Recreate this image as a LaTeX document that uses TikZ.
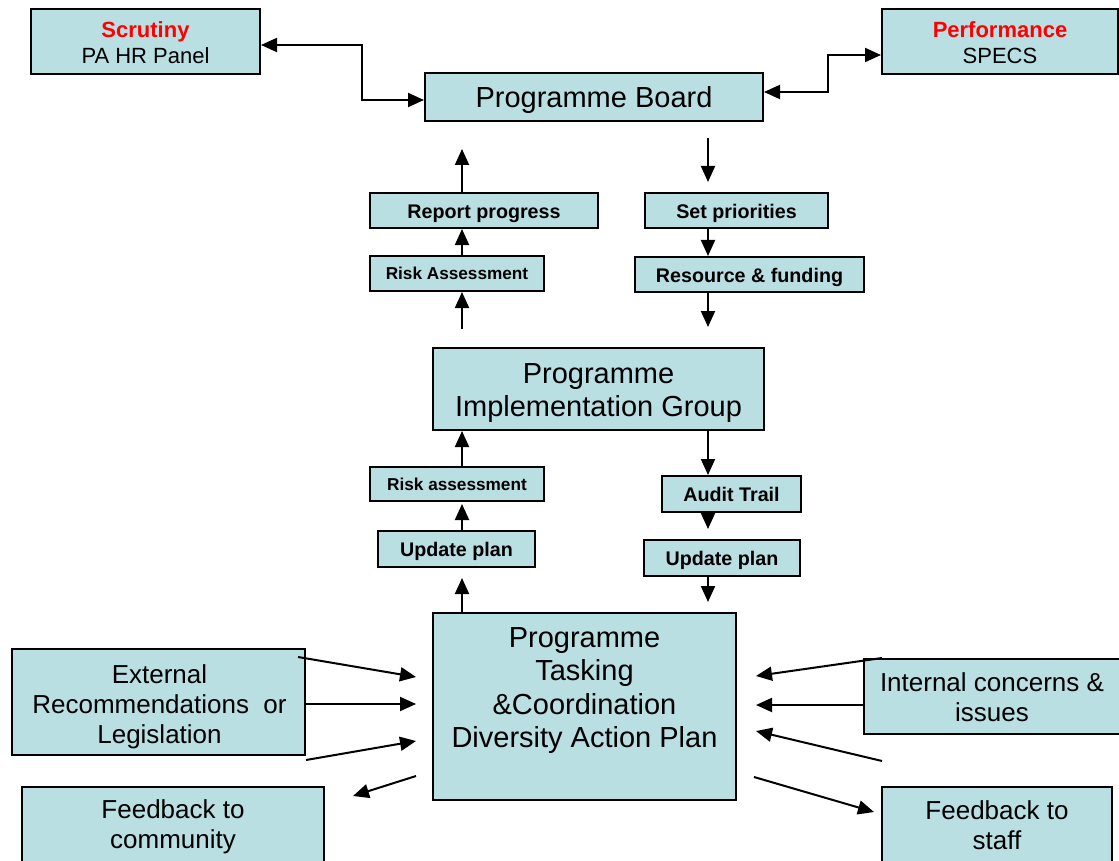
\documentclass[tikz,border=0pt]{standalone}
\usepackage{fontspec}
\setmainfont{Liberation Sans}
\usetikzlibrary{arrows.meta,calc}
\definecolor{bfill}{RGB}{185,223,227}
\definecolor{rtext}{RGB}{255,0,0}
\tikzset{
  box/.style={draw, line width=2pt, fill=bfill, inner sep=0pt},
  btext/.style={align=center, inner sep=0pt},
  arr/.style={line width=2pt, -{Triangle[length=16pt,width=14pt]}},
  dbl/.style={line width=2pt, {Triangle[length=16pt,width=14pt]}-{Triangle[length=16pt,width=14pt]}},
  fbig/.style={font=\fontsize{29}{33.5}\selectfont},
  fmid/.style={font=\fontsize{26}{30}\selectfont},
  fhead/.style={font=\fontsize{22}{26}\selectfont},
  fsb/.style={font=\fontsize{19.7}{23}\selectfont\bfseries},
  fss/.style={font=\fontsize{17.2}{20}\selectfont\bfseries},
}
% #1 name, #2 cx, #3 cy, #4 w, #5 h, #6 font style, #7 text dx, #8 text dy, #9 text
\newcommand{\bxn}[9]{%
  \node[box, minimum width=#4pt, minimum height=#5pt] (#1) at (#2,#3) {};
  \node[btext, #6] (#1t) at (#2+#7,#3+#8) {#9};}
\begin{document}
\begin{tikzpicture}[x=1pt,y=-1pt]
\clip (0,0) rectangle (1119,861);
\fill[white] (0,0) rectangle (1119,861);
\coordinate (colL) at (462,0);
\coordinate (colR) at (708,0);

% top row
\bxn{scr}{145.5}{41.5}{229}{65}{fhead}{0}{1}{{\color{rtext}\bfseries Scrutiny}\\PA HR Panel}
\bxn{perf}{1000}{41.5}{236}{65}{fhead}{0}{1}{{\color{rtext}\bfseries Performance}\\SPECS}
\bxn{board}{594}{97}{338}{48}{fbig}{0}{3}{Programme Board}

% upper middle
\bxn{rp}{484}{210.5}{228}{35}{fsb}{0}{3}{Report progress}
\bxn{ra1}{457}{273.5}{174}{35}{fss}{0}{0}{Risk Assessment}
\bxn{sp}{736.5}{210.5}{183}{35}{fsb}{0}{3}{Set priorities}
\bxn{rf}{749.5}{274.5}{229}{35}{fsb}{0}{3}{Resource \& funding}

\bxn{pig}{598.5}{389}{331}{82}{fbig}{0}{4}{Programme\\Implementation Group}

% lower middle
\bxn{ra2}{457}{484}{174}{34}{fss}{0}{0}{Risk assessment}
\bxn{up1}{456.5}{549}{157}{36}{fsb}{0}{2}{Update plan}
\bxn{at}{731.5}{494}{139}{36}{fsb}{0}{0}{Audit Trail}
\bxn{up2}{722}{558}{156}{36}{fsb}{0}{2}{Update plan}

\bxn{ptc}{584.5}{706.5}{303}{187}{fbig}{0}{-16}{Programme\\Tasking\\\&Coordination\\Diversity Action Plan}

% sides
\bxn{ext}{158.5}{702}{293}{106}{fmid}{1}{5}{External\\Recommendations\ \ or\\Legislation}
\bxn{int}{995}{696.5}{262}{75}{fmid}{-3}{1}{Internal concerns \&\\issues}
\bxn{fbc}{173}{827}{302}{80}{fmid}{0}{0}{Feedback to\\community}
\bxn{fbs}{997}{827}{230}{80}{fmid}{0}{-2}{Feedback to\\staff}

% top connectors
\draw[dbl] ($(scr.east)+(0,3.5)$) -- ++(101,0) |- ($(board.west)+(0,3)$);
\draw[dbl] ($(board.east)+(0,-5)$) -- ++(64,0) |- ($(perf.west)+(0,13.5)$);

% left column
\draw[arr, shorten >=27pt] (rp.north -| colL) -- (board.south -| colL);
\draw[arr] (ra1.north -| colL) -- (rp.south -| colL);
\draw[arr, shorten <=18pt] (pig.north -| colL) -- (ra1.south -| colL);
\draw[arr] (ra2.north -| colL) -- (pig.south -| colL);
\draw[arr, shorten >=2pt] (up1.north -| colL) -- (ra2.south -| colL);
\draw[arr, shorten >=10pt] (ptc.north -| colL) -- (up1.south -| colL);

% right column
\draw[arr, shorten <=16pt, shorten >=10pt] (board.south -| colR) -- (sp.north -| colR);
\draw[arr] (sp.south -| colR) -- (rf.north -| colR);
\draw[arr, shorten >=20pt] (rf.south -| colR) -- (pig.north -| colR);
\draw[arr] (pig.south -| colR) -- (at.north -| colR);
\draw[arr, shorten >=10pt] (at.south -| colR) -- (up2.north -| colR);
\draw[arr, shorten >=10pt] (up2.south -| colR) -- (ptc.north -| colR);

% left side arrows
\draw[arr] ($(ext.north east)+(-8,9)$) -- ($(ptc.west)+(-16,-29.5)$);
\draw[arr] ($(ext.east)+(0,2)$) -- ($(ptc.west)+(-16,-2.5)$);
\draw[arr] ($(ext.south east)+(0,4)$) -- ($(ptc.west)+(-16,34.5)$);
\draw[arr] ($(ptc.west)+(-16,69.5)$) -- ($(fbc.north east)+(28,10)$);

% right side arrows
\draw[arr] ($(int.north west)+(19,0)$) -- ($(ptc.east)+(19,-30.5)$);
\draw[arr] ($(int.west)+(0,8.5)$) -- ($(ptc.east)+(19,-1.5)$);
\draw[arr] ($(int.south west)+(19,26)$) -- ($(ptc.east)+(19,24.5)$);
\draw[arr] ($(ptc.east)+(17,70.5)$) -- ($(fbs.north west)+(-7,26)$);
\end{tikzpicture}
\end{document}
